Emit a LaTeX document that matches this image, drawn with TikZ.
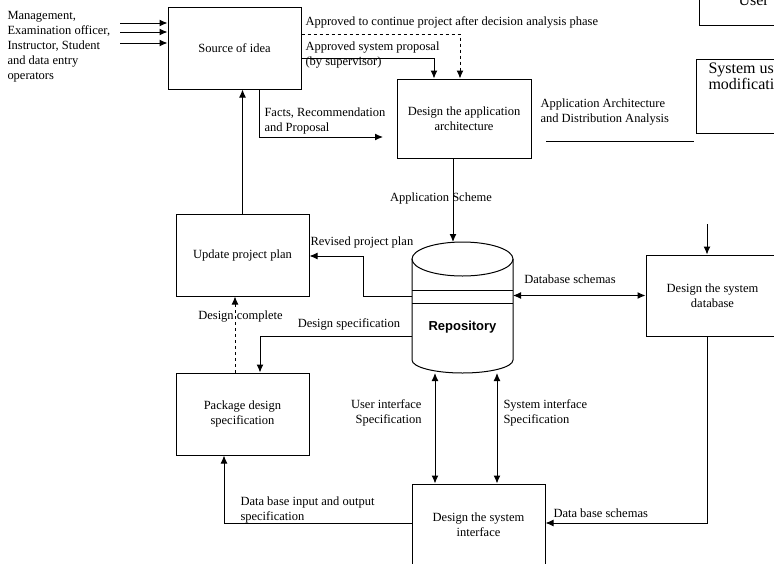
\documentclass[tikz,border=0pt]{standalone}
\usepackage{fontspec}
\setmainfont{Liberation Serif}
\newfontfamily\reposans{Liberation Sans}
\usetikzlibrary{arrows.meta}

\tikzset{
  box/.style={draw,minimum width=133pt,minimum height=82pt,align=center,inner sep=2pt},
  lbl/.style={align=left,inner sep=0pt},
  arr/.style={-{Latex[length=8pt,width=7pt]}},
  darr/.style={{Latex[length=8pt,width=7pt]}-{Latex[length=8pt,width=7pt]}},
}

\begin{document}
\begin{tikzpicture}[x=1pt,y=-1pt,line width=1pt,font=\fontsize{12.5}{15}\selectfont]
  \useasboundingbox (0,0) rectangle (774,563);

  % boxes
  \node[box] (src) at (234.5,48) {Source of idea};
  \node[box,minimum width=134pt,minimum height=79pt] (app) at (464,118.5) {Design the application\\architecture};
  \node[box] (upd) at (242.5,255) {Update project plan};
  \node[box] (pkg) at (242.5,414) {Package design\\specification};
  \node[box] (sysif) at (478.5,525) {Design the system\\interface};
  \node[box,minimum height=81pt] (db) at (712.5,295.5) {Design the system\\database};
  \node[box,minimum height=60pt] (usr) at (765.5,-5) {};
  \node[box,minimum height=74pt] (sysmod) at (762.5,96) {};
  \node[lbl,anchor=base west,font=\fontsize{16}{16}\selectfont] (usrtxt) at (738,5) {User};
  \node[lbl,anchor=north west,font=\fontsize{16}{16}\selectfont] (sysmodtxt) at (708,62) {System us\\modificati};

  % repository cylinder
  \node[minimum width=101pt,minimum height=131pt,inner sep=0pt,outer sep=0pt] (repo) at (462.5,307.5) {};
  \draw (412,259) -- (412,360) arc[start angle=180,end angle=0,x radius=50.5,y radius=13] -- (513,259);
  \draw (462.5,259) ellipse[x radius=50.5,y radius=17];
  \draw (412,290) -- (513,290);
  \draw (412,303) -- (513,303);
  \node[font=\reposans\bfseries\fontsize{13}{13}\selectfont] (repotxt) at (462.5,327) {Repository};

  % inputs to source of idea
  \foreach \y [count=\i] in {23,32,43} {
    \coordinate (in\i) at (120,\y);
    \draw[arr] (in\i) -- (in\i -| src.west);
  }
  \node[lbl,anchor=west] (users) at (7,47) {Management,\\Examination officer,\\Instructor, Student\\and data entry\\operators};

  % approvals
  \coordinate (dashbend) at (460,34);
  \draw[arr,dashed] (src.east |- dashbend) -- (dashbend) -- (dashbend |- app.north);
  \node[lbl,anchor=west] (contlbl) at (305,22) {Approved to continue project after decision analysis phase};
  \coordinate (propbend) at (434,58);
  \draw[arr] (src.east |- propbend) -- (propbend) -- (propbend |- app.north);
  \node[lbl,anchor=west] (proplbl) at (305,55) {Approved system proposal\\(by supervisor)};

  % facts
  \coordinate (factsbend) at (259,137);
  \coordinate (factsend) at (383,137);
  \draw[arr] (factsbend |- src.south) -- (factsbend) -- (factsend);
  \node[lbl,anchor=west] (factslbl) at (264,120.5) {Facts, Recommendation\\and Proposal};

  % application architecture
  \node[lbl,anchor=west] (archlbl) at (540,112) {Application Architecture\\and Distribution Analysis};
  \coordinate (archA) at (546,141);
  \coordinate (archB) at (694,141);
  \draw (archA) -- (archB);

  % update plan to source
  \draw[arr] (upd.north) -- (upd.north |- src.south);

  % application scheme
  \coordinate (schemeend) at (453,242);
  \draw[arr] (schemeend |- app.south) -- (schemeend);
  \node[inner sep=0pt] (schemelbl) at (441,198) {Application Scheme};

  % revised project plan
  \coordinate (revA) at (363,296);
  \coordinate (revB) at (363,256);
  \draw[arr] (repo.west |- revA) -- (revA) -- (revB) -- (revB -| upd.east);
  \node[lbl,anchor=west] (revlbl) at (310,242) {Revised project plan};

  % design complete
  \coordinate (dc) at (235,335);
  \draw[arr,dashed] (dc |- pkg.north) -- (dc |- upd.south);
  \node[inner sep=0pt] (dclbl) at (240.5,317) {Design complete};

  % design specification
  \coordinate (dspec) at (260,336);
  \draw[arr] (repo.west |- dspec) -- (dspec) -- (dspec |- pkg.north);
  \node[inner sep=0pt] (dspeclbl) at (349,324) {Design specification};

  % interface specifications
  \coordinate (uiA) at (435,375);
  \draw[darr] (uiA |- repo.south) -- (uiA |- sysif.north);
  \node[align=right,inner sep=0pt,anchor=east] (uilbl) at (422,413) {User interface\\Specification};
  \coordinate (siA) at (497,375);
  \draw[darr] (siA |- repo.south) -- (siA |- sysif.north);
  \node[lbl,anchor=west] (silbl) at (503,413) {System interface\\Specification};

  % database schemas
  \draw[darr] (repo.east |- db.west) -- (db.west);
  \node[inner sep=0pt] (dbslbl) at (570,279) {Database schemas};
  \coordinate (dbin) at (707,224);
  \draw[arr] (dbin) -- (dbin |- db.north);
  \coordinate (dbsb) at (707,523);
  \draw[arr] (dbsb |- db.south) -- (dbsb) -- (dbsb -| sysif.east);
  \node[lbl,anchor=west] (dbs2lbl) at (553,513) {Data base schemas};

  % data base input and output
  \coordinate (dbio) at (224,523);
  \draw[arr] (dbio -| sysif.west) -- (dbio) -- (dbio |- pkg.south);
  \node[lbl,anchor=west] (dbiolbl) at (240,509.5) {Data base input and output\\specification};
\end{tikzpicture}
\end{document}
